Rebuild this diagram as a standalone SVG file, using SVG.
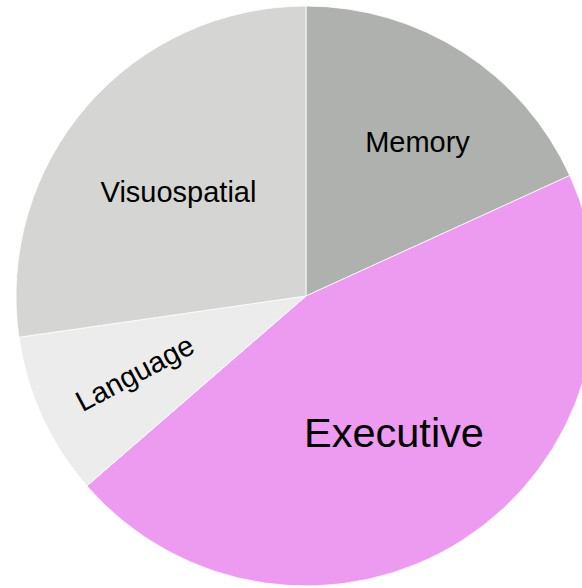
<svg xmlns="http://www.w3.org/2000/svg" width="582" height="588" viewBox="0 0 582 588">
  <style>
    .wedge { stroke: #ffffff; stroke-width: 0.8; stroke-linejoin: round; }
    .lbl { font-family: "Liberation Sans", Arial, sans-serif; fill: #000000; text-anchor: middle; }
  </style>
  <rect width="582" height="588" fill="#ffffff"/>
  <!-- pie centre (306,296), radius 290; shares 2:5:1:3 of 11 -->
  <g id="memory">
    <path class="wedge" fill="#aeb1ad" d="M306,296 L306,6 A290,290 0 0,1 569.79,175.53 Z"/>
    <text class="lbl" x="417.5" y="151.7" font-size="29">Memory</text>
  </g>
  <g id="executive">
    <path class="wedge" fill="#ec9bf0" d="M306,296 L569.79,175.53 A290,290 0 0,1 86.83,485.91 Z"/>
    <text class="lbl" x="394" y="447.3" font-size="41.5">Executive</text>
  </g>
  <g id="language">
    <path class="wedge" fill="#ececec" d="M306,296 L86.83,485.91 A290,290 0 0,1 18.95,337.27 Z"/>
    <text class="lbl" x="0" y="0" font-size="29" transform="translate(139.5,382) rotate(-28)">Language</text>
  </g>
  <g id="visuospatial">
    <path class="wedge" fill="#d5d6d4" d="M306,296 L18.95,337.27 A290,290 0 0,1 306,6 Z"/>
    <text class="lbl" x="178.5" y="201.7" font-size="29">Visuospatial</text>
  </g>
</svg>
